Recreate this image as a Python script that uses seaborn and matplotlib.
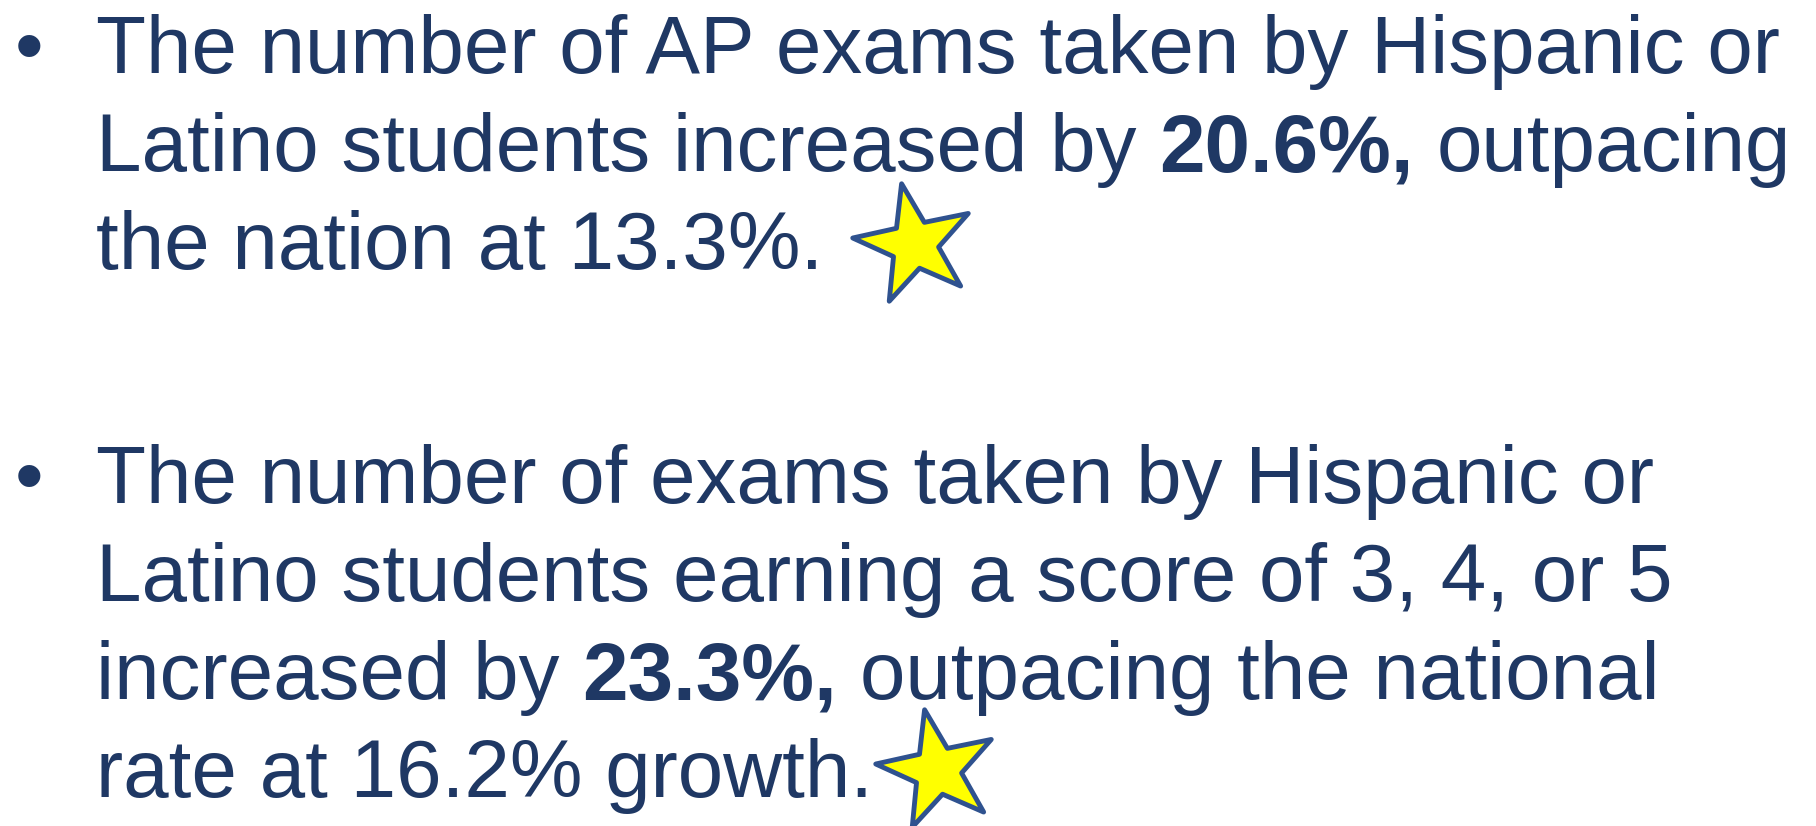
import matplotlib
matplotlib.use("Agg")
import matplotlib.pyplot as plt
import seaborn as sns
import pandas as pd
from matplotlib.path import Path
from matplotlib.markers import MarkerStyle
from matplotlib.transforms import Affine2D

# ---- content: each line is a list of (text, bold) runs ----
bullet1_lines = [
    [("The number of AP exams taken by Hispanic or", False)],
    [("Latino students increased by ", False), ("20.6%,", True), (" outpacing", False)],
    [("the nation at 13.3%.", False)],
]
bullet2_lines = [
    [("The number of exams taken by Hispanic or", False)],
    [("Latino students earning a score of 3, 4, or 5", False)],
    [("increased by ", False), ("23.3%,", True), (" outpacing the national", False)],
    [("rate at 16.2% growth.", False)],
]
paragraphs = [bullet1_lines, bullet2_lines]
star_labels = ["bullet 1", "bullet 2"]

# ---- layout / style ----
W, H, DPI = 1816, 826, 100
TEXT_COLOR = "#1F3864"
STAR_FILL = "#FFFF00"
STAR_EDGE = "#2F528F"
FS = 58.9
TEXT_X = 96
BULLET_X = 29
LINE_H = 98
PARA_Y = [73, 503]
STAR_DX = [91, 64]
STAR_RISE = [25, 27]

sns.set_theme(style="white")
plt.rcParams["font.family"] = ["Liberation Sans", "DejaVu Sans"]

fig = plt.figure(figsize=(W / DPI, H / DPI), dpi=DPI)
fig.patch.set_facecolor("white")
ax = fig.add_axes([0, 0, 1, 1])
ax.set_xlim(0, W)
ax.set_ylim(H, 0)
ax.axis("off")

renderer = fig.canvas.get_renderer()


def text_width(s, bold):
    t = ax.text(0, 0, s, fontsize=FS, fontweight="bold" if bold else "normal")
    w = t.get_window_extent(renderer).width
    t.remove()
    return w


space_w = text_width("x x", False) - text_width("xx", False)

star_x, star_y = [], []
for pi, lines in enumerate(paragraphs):
    base = PARA_Y[pi]
    ax.text(BULLET_X, base, "\u2022", fontsize=FS, color=TEXT_COLOR,
            ha="center", va="baseline")
    end_x = TEXT_X
    for li, runs in enumerate(lines):
        y = base + li * LINE_H
        x = TEXT_X
        for s, bold in runs:
            lead = len(s) - len(s.lstrip(" "))
            trail = len(s) - len(s.rstrip(" "))
            core = s.strip(" ")
            x += lead * space_w
            ax.text(x, y, core, fontsize=FS, color=TEXT_COLOR,
                    fontweight="bold" if bold else "normal",
                    ha="left", va="baseline")
            x += text_width(core, bold) + trail * space_w
        end_x = x
    last_y = base + (len(lines) - 1) * LINE_H
    star_x.append(end_x + STAR_DX[pi])
    star_y.append(last_y - STAR_RISE[pi])

stars = pd.DataFrame({"x": star_x, "y": star_y, "label": star_labels})
star_marker = MarkerStyle(Path.unit_regular_star(5, 0.39),
                          transform=Affine2D().rotate_deg(12))
sns.scatterplot(data=stars, x="x", y="y", marker=star_marker, s=8000,
                color=STAR_FILL, edgecolor=STAR_EDGE, linewidth=3.5,
                ax=ax, legend=False, zorder=5)
ax.set_xlim(0, W)
ax.set_ylim(H, 0)
ax.axis("off")

fig.savefig("out.png", dpi=DPI, facecolor="white")
